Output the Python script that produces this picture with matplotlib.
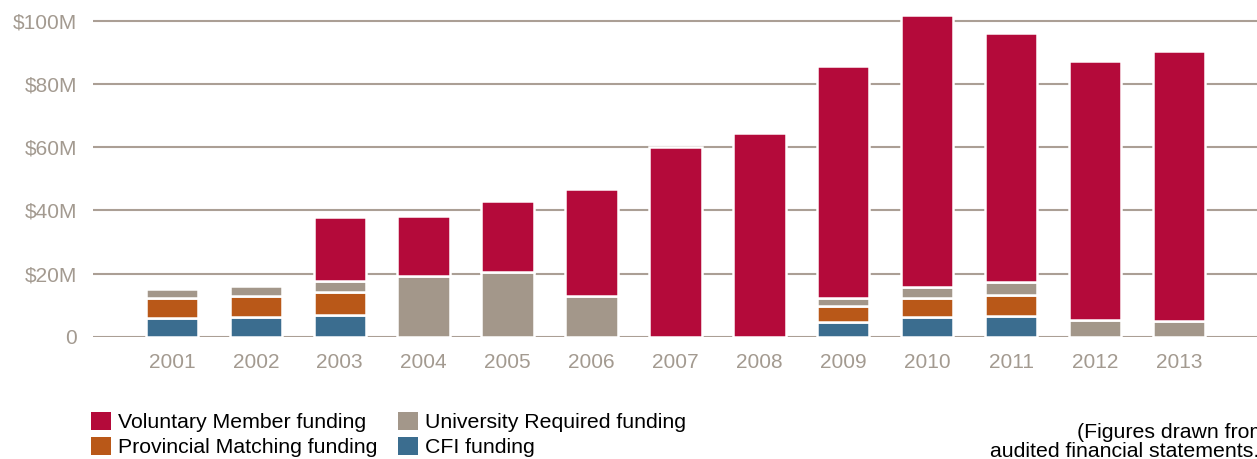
import matplotlib
matplotlib.use("Agg")
import matplotlib.pyplot as plt
from matplotlib.patches import Patch
import numpy as np

plt.rcParams['font.family'] = ['Liberation Sans', 'DejaVu Sans']

years = ['2001', '2002', '2003', '2004', '2005', '2006', '2007',
         '2008', '2009', '2010', '2011', '2012', '2013']
cfi = [5.9, 6.2, 6.9, 0, 0, 0, 0, 0, 4.8, 6.1, 6.5, 0, 0]
provincial = [6.3, 6.6, 7.2, 0, 0, 0, 0, 0, 4.9, 6.3, 6.8, 0, 0]
university = [3.0, 3.4, 3.5, 19.3, 20.6, 12.8, 0, 0, 2.5, 3.2, 3.9, 5.2, 4.9]
voluntary = [0, 0, 20.4, 18.8, 22.4, 33.9, 60.1, 64.5, 73.5, 86.3, 78.9, 82.1, 85.6]
yticks = [0, 20, 40, 60, 80, 100]
ytick_labels = ['0', '$20M', '$40M', '$60M', '$80M', '$100M']

c_vol = '#b40a3a'
c_prov = '#b95818'
c_univ = '#a3978a'
c_cfi = '#3b6d8f'
c_grid = '#ab9f95'
c_text = '#a39a90'

W, H = 1257, 459
fig = plt.figure(figsize=(W / 100, H / 100), dpi=100)
y0_px = 336.7
ppm = 3.157
top_px = 5.0
ax = fig.add_axes([93 / W, (H - y0_px) / H, 1 - 93 / W, (y0_px - top_px) / H])

x = np.arange(len(years))
bw = 0.625
lw = 1.8
cfi_a = np.array(cfi)
prov_a = np.array(provincial)
univ_a = np.array(university)
vol_a = np.array(voluntary)

segs = [(cfi_a, c_cfi), (prov_a, c_prov), (univ_a, c_univ), (vol_a, c_vol)]
bottom = np.zeros(len(years))
for vals, col in segs:
    mask = vals > 0
    ax.bar(x[mask], vals[mask], bottom=bottom[mask], width=bw, color=col,
           edgecolor='white', linewidth=lw, zorder=3)
    bottom = bottom + vals

ax.set_xlim(-(172 - 93) / 83.9, (W - 172) / 83.9)
ax.set_ylim(0, (y0_px - top_px) / ppm)
ax.set_yticks(yticks)
ax.set_yticklabels(ytick_labels)
ax.set_xticks(x)
ax.set_xticklabels(years)
ax.yaxis.grid(True, color=c_grid, linewidth=1.5, zorder=0)
ax.xaxis.grid(False)
ax.set_axisbelow(True)
for s in ax.spines.values():
    s.set_visible(False)
ax.tick_params(axis='y', length=0, pad=11.5, labelsize=15, labelcolor=c_text)
ax.tick_params(axis='x', length=0, pad=11.5, labelsize=15, labelcolor=c_text)

handles = [Patch(facecolor=c_vol, edgecolor='none', label='Voluntary Member funding'),
           Patch(facecolor=c_prov, edgecolor='none', label='Provincial Matching funding'),
           Patch(facecolor=c_univ, edgecolor='none', label='University Required funding'),
           Patch(facecolor=c_cfi, edgecolor='none', label='CFI funding')]
leg = fig.legend(handles=handles, ncol=2, loc='upper left',
                 bbox_to_anchor=(91 / W, 1 - 412 / H), frameon=False,
                 fontsize=15.3, handlelength=0.95, handleheight=0.95,
                 handletextpad=0.3, columnspacing=1.0, labelspacing=0.2,
                 borderpad=0, borderaxespad=0)

fig.text(1077 / W, 1 - 437.5 / H, '(Figures drawn from', fontsize=15.3,
         color='black', ha='left', va='baseline')
fig.text(990 / W, 1 - 457 / H, 'audited financial statements.)', fontsize=15.3,
         color='black', ha='left', va='baseline')

fig.savefig('out.png', dpi=100)
